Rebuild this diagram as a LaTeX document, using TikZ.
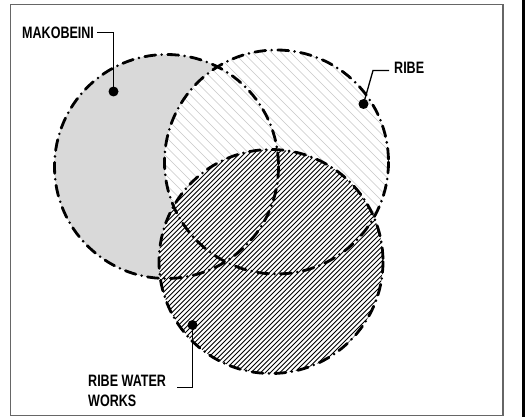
\documentclass[tikz,border=0pt]{standalone}
\usepackage{fontspec}
\setmainfont{Liberation Sans}[FakeStretch=0.76]
\begin{document}
\begin{tikzpicture}[x=1pt,y=-1pt,
  outline/.style={line width=2.8pt, line cap=round, dash pattern=on 11pt off 6pt on 0pt off 6pt},
  leader/.style={line width=1.3pt},
  dotmark/.style={circle, fill=black, inner sep=0pt, minimum size=10pt},
  lbl/.style={inner sep=0pt, font=\fontsize{16.5}{19.5}\selectfont\bfseries, align=left},
  ringnode/.style={circle, inner sep=0pt, minimum size=224pt}]
\useasboundingbox (0,0) rectangle (525,417);
\fill[white] (0,0) rectangle (525,417);
% frame
\draw[line width=1.2pt, draw=black!60] (10.5,4.5) rectangle (503,415.5);
\fill[black] (522,0) rectangle (525,417);
% circle centres
\node[ringnode] (M) at (166.5,166.5) {};
\node[ringnode] (R) at (276.5,162) {};
\node[ringnode] (W) at (271,261.5) {};
% Makobeini fill
\fill[black!15] (M.center) circle (112);
% Ribe fill + light hatch
\fill[white] (R.center) circle (112);
\begin{scope}
  \clip (R.center) circle (112);
  \foreach \k in {-32,...,32} {
    \draw[line width=0.7pt, draw=black!22] ([shift={(\k*9.5,0)}]R.center) ++(-130,-130) -- ++(260,260);
  }
\end{scope}
% Water works fill + dark hatch
\fill[white] (W.center) circle (112);
\begin{scope}
  \clip (W.center) circle (112);
  \foreach \k in {-55,...,55} {
    \draw[line width=0.9pt, draw=black] ([shift={(\k*4.8,0)}]W.center) ++(-130,130) -- ++(260,-260);
  }
\end{scope}
% outlines
\draw[outline] (M.center) circle (112);
\draw[outline] (R.center) circle (112);
\draw[outline] (W.center) circle (112);
% labels, dots and leaders
\node[lbl, anchor=west] (mk) at (22,32.5) {MAKOBEINI};
\node[dotmark] (mkdot) at (113.5,91.5) {};
\coordinate (mkl) at (97,32.5);
\draw[leader] (mkl) -| (mkdot.center);

\node[lbl, anchor=west] (rb) at (394,68) {RIBE};
\node[dotmark] (rbdot) at (363.5,104) {};
\coordinate (rbl) at (389,70.5);
\coordinate (rbk) at (373,70.5);
\draw[leader] (rbl) -- (rbk) -- (rbdot.center);

\node[lbl, anchor=north west] (ww) at (88,375) {RIBE WATER\\WORKS};
\node[dotmark] (wwdot) at (192.5,325) {};
\coordinate (wwl) at (177,387.5);
\draw[leader] (wwl) -| (wwdot.center);
\end{tikzpicture}
\end{document}
